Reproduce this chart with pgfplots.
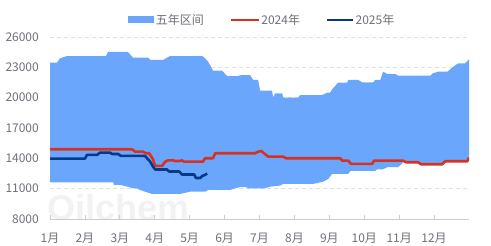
\documentclass[border=0pt]{standalone}
\usepackage{fontspec}
\setmainfont{Noto Sans CJK SC}
\newfontfamily\wmfont{Liberation Sans}
\usepackage{pgfplots}
\pgfplotsset{compat=1.18}
\definecolor{band}{HTML}{6AA7FC}
\definecolor{red24}{HTML}{D8311F}
\definecolor{blue25}{HTML}{053A8B}
\definecolor{txt}{HTML}{6E7079}
\definecolor{gridc}{HTML}{E0E0E0}
\definecolor{axc}{HTML}{CCCCCC}
\begin{document}
\begin{tikzpicture}
\path (0,0) rectangle (491bp,246bp);
\node[text=black!5, font=\wmfont\bfseries\fontsize{36bp}{36bp}\selectfont, anchor=west] at (44bp,38bp) {Oilchem};
\begin{axis}[
  at={(50bp,27bp)}, anchor=south west,
  scale only axis, width=419bp, height=182bp,
  xmin=0, xmax=12, ymin=8000, ymax=26000,
  axis x line*=bottom, axis y line*=left,
  y axis line style={draw=none},
  x axis line style={axc, line width=0.8bp},
  ytick={8000,11000,14000,17000,20000,23000,26000},
  xtick={0,1,2,3,4,5,6,7,8,9,10,11},
  xticklabels={1月,2月,3月,4月,5月,6月,7月,8月,9月,10月,11月,12月},
  ytick style={draw=none},
  xtick style={axc, line width=0.8bp},
  xtick align=inside,
  major tick length=4bp,
  ymajorgrids,
  major grid style={gridc, dash pattern=on 4bp off 3bp, line width=0.8bp},
  ticklabel style={font=\fontsize{12bp}{14bp}\selectfont, text=txt},
  /pgf/number format/assume math mode=true,
  /pgf/number format/1000 sep={},
  scaled y ticks=false,
  yticklabel style={anchor=east, inner sep=0pt, xshift=-11bp},
  xticklabel style={anchor=north, inner sep=0pt, yshift=-14bp},
  legend columns=3,
  legend style={at={(0.506,1)}, anchor=center, yshift=17bp, draw=none, fill=none,
    font=\fontsize{12bp}{14bp}\selectfont, text=txt,
    /tikz/every even column/.append style={column sep=24bp},
    nodes={inner sep=1.5bp}},
]
\addplot[fill=band, draw=none,
  legend image code/.code={\fill[band] (0bp,-3.5bp) rectangle (26bp,3.5bp);}]
  coordinates {
(0,23460) (0.2,23460) (0.29,23900) (0.49,24120) (1.6,24120) (1.66,24520) (2.23,24520)
(2.38,23950) (2.81,23950) (2.87,23730) (3.24,23730) (3.44,24120) (4.36,24120) (4.44,23900)
(4.53,23560) (4.67,22670) (4.93,22670) (5.07,22140) (5.36,22140) (5.5,22240) (5.73,22240)
(5.82,21750) (5.96,21750) (6.02,20690) (6.36,20690) (6.39,20040) (6.45,20430) (6.65,20430)
(6.68,20000) (7.11,20000) (7.16,20260) (7.79,20260) (7.94,20490) (8.02,20490) (8.08,20830)
(8.25,21480) (8.51,21480) (8.54,21750) (8.83,21750) (8.94,21520) (9.26,21520) (9.31,21750)
(9.46,21750) (9.54,22570) (9.66,22340) (9.89,22340) (9.97,22170) (10.89,22170) (10.97,22410)
(11.12,22570) (11.38,22570) (11.55,23060) (11.69,23400) (11.89,23400) (12,23790)
(12,13900) (11.95,13710) (11.32,13710) (11.23,13410) (10.66,13410) (10.54,13610)
(10.23,13610) (10.2,13770) (10.12,13770) (10.09,13510) (9.97,13120) (9.66,13120)
(9.54,12920) (9.37,12920) (9.31,12750) (8.6,12750) (8.54,12460) (8.08,12460) (7.97,11960)
(7.82,11690) (7.54,11470) (6.68,11470) (6.59,11300) (6.30,11200) (6.16,11040) (5.67,11040)
(5.62,11150) (5.44,11150) (5.3,11040) (5.16,10870) (4.53,10870) (4.44,10700) (4.01,10700)
(3.81,10540) (3.72,10480) (2.92,10480) (2.72,10700) (2.58,10870) (2.49,11040) (2.38,11040)
(2.21,11200) (2.01,11370) (1.83,11370) (1.81,11630) (0,11630)
} -- cycle;
\addlegendentry{五年区间}

\addplot[red24, line width=2.6bp, line join=round,
  legend image code/.code={\draw[red24, line width=2.6bp] (0bp,0bp) -- (28bp,0bp);}] coordinates {
(0,14900) (2.35,14900) (2.44,14660) (2.66,14660) (2.75,14500) (2.84,14500) (2.89,14240)
(2.95,13910) (3.01,13250) (3.21,13250) (3.30,13670) (3.38,13800) (3.52,13800) (3.58,13740)
(3.72,13740) (3.78,13800) (3.84,13670) (4.38,13670) (4.44,14010) (4.67,14010) (4.73,14500)
(5.87,14500) (5.96,14650) (6.05,14730) (6.13,14500) (6.25,14170) (6.68,14170) (6.76,14010)
(8.31,14010) (8.37,13770) (8.54,13770) (8.62,13450) (9.23,13450) (9.28,13770) (10.11,13770)
(10.2,13610) (10.54,13610) (10.63,13410) (11.23,13410) (11.32,13710) (11.95,13710) (12,14070)
};
\addlegendentry{2024年}

\addplot[blue25, line width=2.6bp, line join=round,
  legend image code/.code={\draw[blue25, line width=2.6bp] (0bp,0bp) -- (26bp,0bp);}] coordinates {
(0,13970) (1.0,13970) (1.06,14340) (1.35,14340) (1.43,14560) (1.72,14560) (1.78,14430)
(1.95,14430) (2.03,14240) (2.72,14240) (2.78,14010) (2.87,13670) (2.95,13180) (3.01,12900)
(3.35,12900) (3.41,12700) (3.7,12700) (3.78,12400) (4.13,12400) (4.18,12050) (4.3,12050)
(4.36,12260) (4.44,12360) (4.5,12500)
};
\addlegendentry{2025年}
\end{axis}
\end{tikzpicture}
\end{document}
